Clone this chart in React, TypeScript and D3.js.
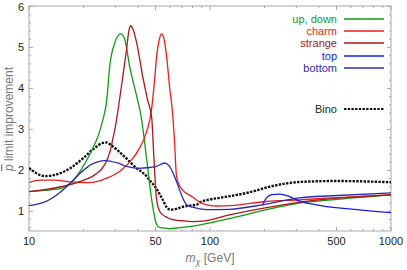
import React from "react";
import * as d3 from "d3";

const upDown: [number, number][] = [
  [10, 1.48], [12, 1.51], [15, 1.56], [17, 1.69], [19.3, 2.0], [22, 2.45], [24, 2.82],
  [25.6, 3.23], [26.9, 3.72], [27.9, 4.53], [29.7, 5.1], [32.1, 5.33], [33.8, 5.2],
  [36, 4.53], [39.4, 3.8], [41.9, 3.24], [44.7, 2.26], [47.6, 1.29], [50.7, 0.68],
  [53, 0.6], [60, 0.58], [68, 0.6], [84, 0.65], [100, 0.72], [133, 0.84], [205, 1.04],
  [311, 1.2], [473, 1.28], [1000, 1.4],
];
const charm: [number, number][] = [
  [10, 1.7], [11.5, 1.76], [13.9, 1.76], [17, 1.72], [21.1, 1.7], [24, 1.73], [26.2, 1.79],
  [30.9, 1.94], [33, 2.04], [36, 2.2], [40.9, 2.55], [44.7, 2.95], [47.6, 3.5],
  [49.4, 4.2], [50.7, 4.77], [52.5, 5.2], [54.1, 5.33], [55.8, 5.2], [57.6, 4.77],
  [59.8, 4.04], [62.1, 3.4], [63.7, 2.7], [65.3, 1.85], [67.5, 1.65], [70.6, 1.52],
  [80.1, 1.35], [87.5, 1.23], [95.7, 1.16], [110, 1.13], [130, 1.14], [205, 1.24],
  [311, 1.28], [473, 1.33], [1000, 1.4],
];
const strange: [number, number][] = [
  [10, 1.48], [15, 1.6], [20.3, 1.77], [23.1, 1.89], [26.2, 2.14], [28, 2.45], [29, 2.75],
  [30.1, 3.1], [31.7, 3.75], [33, 4.3], [34.7, 5.0], [35.6, 5.4], [36.5, 5.53], [37.5, 5.45],
  [39.4, 5.1], [42.5, 4.29], [45.2, 3.72], [47.6, 3.3], [49, 2.3], [50.7, 1.28], [52.7, 1.0],
  [54.7, 0.92], [58, 0.85], [62.1, 0.8], [70, 0.77], [80, 0.75], [90, 0.76], [130, 0.92],
  [205, 1.09], [311, 1.22], [1000, 1.4],
];
const top: [number, number][] = [
  [195, 1.15], [205, 1.33], [220, 1.41], [241, 1.42], [285, 1.33], [300, 1.28],
  [386, 1.16], [587, 1.06], [1000, 0.97],
];
const bottom: [number, number][] = [
  [10, 1.14], [12.25, 1.23], [15, 1.48], [17, 1.7], [19.3, 1.94], [22, 2.14], [24, 2.21],
  [26.2, 2.24], [30.9, 2.18], [35.1, 2.09], [39.9, 2.05], [46.4, 2.07], [50.7, 2.1],
  [56.1, 2.18], [59.8, 2.1], [65.3, 1.73], [70.6, 1.33], [74.2, 1.16], [80.1, 1.1],
  [95.7, 1.04], [128, 1.05], [195, 1.16], [311, 1.33], [473, 1.38], [1000, 1.45],
];
const bino: [number, number][] = [
  [10, 2.06], [12.25, 1.86], [13.9, 1.89], [17, 2.06], [20.3, 2.33], [23.1, 2.55],
  [25.6, 2.67], [26.9, 2.68], [28.3, 2.62], [33.8, 2.33], [38.4, 2.09], [44.7, 1.85],
  [46.4, 1.76], [50.7, 1.55], [52.7, 1.42], [54.7, 1.29], [57.6, 1.1], [60.5, 1.04],
  [65, 1.06], [70.6, 1.11], [77, 1.14], [84.2, 1.16], [87.5, 1.21], [103, 1.3],
  [113, 1.33], [171, 1.48], [213, 1.6], [322, 1.72], [500, 1.74], [1000, 1.71],
];

const xMajor = [10, 50, 100, 500, 1000];
const xMinor = [20, 30, 40, 60, 70, 80, 90, 200, 300, 400, 600, 700, 800, 900];
const yMajor = [1, 2, 3, 4, 5, 6];
const yMinor = d3.range(0.6, 6.0, 0.2).filter((v) => Math.abs(v - Math.round(v)) > 0.05);

const series = [
  { name: "up, down", data: upDown, color: "#139a13" },
  { name: "charm", data: charm, color: "#ee1c1c" },
  { name: "strange", data: strange, color: "#a81818" },
  { name: "top", data: top, color: "#1a1aee" },
  { name: "bottom", data: bottom, color: "#2a2ab0" },
];

const W = 407, H = 270;
const L = 29, R = 391, T = 6.5, B = 231;

export default function App() {
  const x = d3.scaleLog().domain([10, 1000]).range([L, R]);
  const y = d3.scaleLinear().domain([0.52, 6]).range([B, T]);
  const line = d3
    .line<[number, number]>()
    .x((d) => x(d[0]))
    .y((d) => y(d[1]))
    .curve(d3.curveMonotoneX);
  const frame = "#a8a8a8";
  const font = "Liberation Sans, Arial, sans-serif";
  const legendX = 337;
  const legendRows = [19, 31, 43, 56, 68];
  return (
    <svg width={W} height={H} style={{ position: "absolute", left: 0, top: 0 }} fontFamily={font}>
      <defs>
        <clipPath id="plot">
          <rect x={L} y={T - 6} width={R - L} height={B - T + 6} />
        </clipPath>
      </defs>
      <rect x={L} y={6} width={R - L} height={B - 6} fill="none" stroke={frame} strokeWidth={1} />
      {xMajor.map((v) => (
        <g key={"xM" + v}>
          <line x1={x(v)} x2={x(v)} y1={B} y2={B - 4} stroke={frame} />
          <line x1={x(v)} x2={x(v)} y1={6} y2={10} stroke={frame} />
          <text x={x(v)} y={245} fontSize={11} textAnchor="middle" fill="#222">{v}</text>
        </g>
      ))}
      {xMinor.map((v) => (
        <g key={"xm" + v}>
          <line x1={x(v)} x2={x(v)} y1={B} y2={B - 2} stroke={frame} />
          <line x1={x(v)} x2={x(v)} y1={6} y2={8} stroke={frame} />
        </g>
      ))}
      {yMajor.map((v) => (
        <g key={"yM" + v}>
          <line x1={L} x2={L + 4} y1={y(v)} y2={y(v)} stroke={frame} />
          <line x1={R} x2={R - 4} y1={y(v)} y2={y(v)} stroke={frame} />
          <text x={24} y={y(v) + 4} fontSize={11} textAnchor="end" fill="#222">{v}</text>
        </g>
      ))}
      {yMinor.map((v) => (
        <g key={"ym" + v.toFixed(1)}>
          <line x1={L} x2={L + 2} y1={y(v)} y2={y(v)} stroke={frame} />
          <line x1={R} x2={R - 2} y1={y(v)} y2={y(v)} stroke={frame} />
        </g>
      ))}
      <g clipPath="url(#plot)">
        <path d={line(bino) || ""} fill="none" stroke="#111" strokeWidth={2.4} strokeDasharray="2.4,1.3" />
        {series.map((s) => (
          <path key={s.name} d={line(s.data) || ""} fill="none" stroke={s.color} strokeWidth={1.3} />
        ))}
      </g>
      {series.map((s, i) => (
        <g key={"lg" + s.name}>
          <text x={legendX} y={legendRows[i] + 4} fontSize={11} textAnchor="end" fill={s.color}>{s.name}</text>
          <line x1={344} x2={384} y1={legendRows[i]} y2={legendRows[i]} stroke={s.color} strokeWidth={1.3} />
        </g>
      ))}
      <text x={legendX} y={113} fontSize={11} textAnchor="end" fill="#222">Bino</text>
      <line x1={344} x2={384} y1={109} y2={109} stroke="#111" strokeWidth={2.2} strokeDasharray="2.4,1.3" />
      <text x={210} y={262} fontSize={12} textAnchor="middle" fill="#777">
        <tspan fontStyle="italic">m</tspan>
        <tspan fontStyle="italic" fontSize={9} dy={3}>χ</tspan>
        <tspan dy={-3}> [GeV]</tspan>
      </text>
      <text transform="translate(13,119) rotate(-90)" fontSize={12} textAnchor="middle" fill="#777">
        <tspan fontStyle="italic" textDecoration="overline">p</tspan>
        <tspan> limit improvement</tspan>
      </text>
    </svg>
  );
}
